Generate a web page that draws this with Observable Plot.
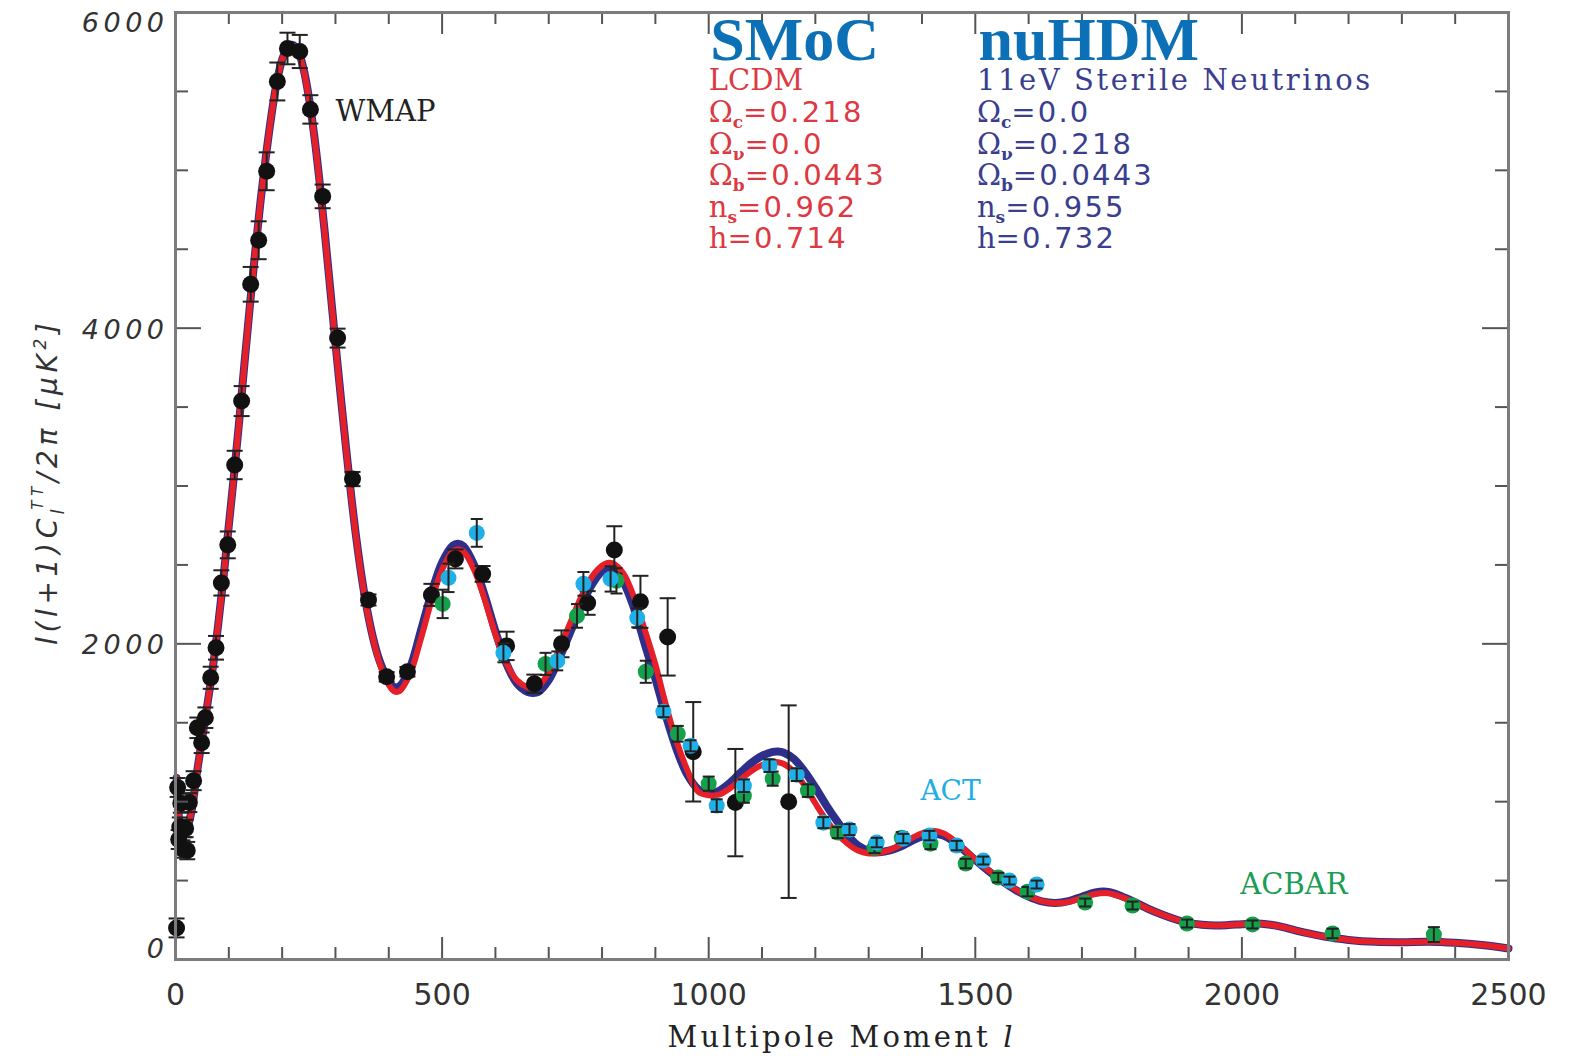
<!DOCTYPE html>
<html><head><meta charset="utf-8">
<script src="https://cdn.jsdelivr.net/npm/d3@7"></script>
<script src="https://cdn.jsdelivr.net/npm/@observablehq/plot@0.6"></script>
<style>
html,body{margin:0;padding:0;background:#fff;}
svg{display:block;}
g[aria-label="y-axis tick label"] text{letter-spacing:4.5px;}
</style></head><body><div id="chart"></div>
<script>
// ---- model curves (multipole l, D_l in muK^2) ----
const modelL = [2,5,10,15,20,30,40,50,60,70,80,90,100,110,120,130,140,150,160,170,180,190,200,210,220,230,240,250,260,270,280,290,300,310,320,330,340,350,360,370,380,390,400,410,420,440,460,480,500,520,530,540,560,580,600,620,640,660,670,680,700,720,740,760,780,800,810,820,840,860,880,900,920,940,960,980,1000,1010,1020,1040,1060,1080,1100,1120,1130,1140,1160,1180,1200,1220,1240,1260,1280,1300,1310,1320,1340,1360,1380,1400,1420,1440,1460,1480,1500,1525,1550,1575,1600,1625,1650,1675,1700,1725,1750,1775,1800,1825,1850,1875,1900,1925,1950,1975,2000,2025,2050,2075,2100,2125,2150,2175,2200,2250,2300,2350,2400,2450,2500];
const lcdmDl = [1150,950,830,790,810,940,1180,1400,1620,1850,2120,2420,2750,3080,3430,3800,4160,4500,4820,5100,5350,5560,5700,5770,5790,5750,5640,5460,5220,4930,4600,4250,3900,3560,3230,2920,2640,2400,2200,2040,1910,1810,1740,1700,1700,1810,2030,2270,2470,2585,2600,2585,2470,2280,2060,1880,1770,1725,1720,1730,1820,1970,2130,2290,2420,2495,2512,2510,2445,2295,2090,1870,1610,1380,1200,1065,1040,1038,1045,1085,1140,1195,1232,1250,1250,1240,1190,1100,990,885,800,735,690,672,672,676,695,728,768,800,815,800,755,695,635,565,500,445,400,370,357,365,390,415,420,395,360,320,285,255,232,220,215,218,224,228,222,207,185,165,148,135,124,112,110,113,106,92,70];
const nuhdmDl = [1150,950,830,790,810,940,1180,1400,1620,1850,2120,2420,2750,3080,3430,3800,4160,4500,4820,5100,5350,5560,5700,5775,5795,5755,5645,5465,5225,4935,4605,4255,3905,3565,3235,2925,2645,2405,2205,2045,1920,1830,1762,1726,1730,1850,2080,2320,2515,2622,2634,2618,2500,2305,2080,1880,1750,1695,1688,1694,1770,1910,2070,2230,2370,2460,2472,2465,2390,2225,2000,1780,1540,1330,1170,1080,1052,1056,1070,1120,1185,1245,1290,1315,1318,1312,1270,1190,1090,980,880,790,722,688,680,680,692,716,750,780,795,785,745,690,630,560,497,442,398,368,358,370,398,425,428,400,362,320,285,255,232,220,215,218,224,228,222,207,185,165,148,135,124,112,110,113,106,92,70];

// ---- WMAP ----
const wmapL = [2,4,6,8,10,13,16,19,22,26,34,41,49,56,66,76,86,98,111,124,141,156,171,191,210,233,253,276,304,332,362,396,435,480,525,576,621,673,724,773,823,872,923,971,1050,1150];
const wmapDl = [200,1090,760,840,990,700,830,830,690,994,1133,1468,1373,1532,1785,1975,2386,2627,3133,3538,4278,4557,4994,5563,5772,5753,5386,4835,3937,3044,2278,1791,1823,2310,2538,2443,1987,1747,2000,2259,2595,2266,2044,1316,994,1000];
const wmapErr = [60,60,60,60,60,55,55,55,55,60,60,65,65,65,70,75,80,85,90,95,110,120,120,120,100,105,90,75,60,45,35,30,30,70,60,50,90,58,85,75,150,165,245,315,340,610];

// ---- ACT ----
const actL = [512,565,615,716,765,816,866,915,966,1015,1066,1114,1165,1215,1264,1315,1365,1414,1465,1515,1564,1615];
const actDl = [2418,2703,1943,1892,2380,2411,2165,1570,1354,975,1101,1228,1171,867,823,741,766,785,722,627,500,475];
const actErr = [90,88,60,60,75,80,60,35,35,40,40,40,40,35,35,30,30,30,30,25,25,25];

// ---- ACBAR ----
const acbarL = [501,694,753,827,882,942,1000,1066,1120,1186,1242,1311,1362,1416,1482,1543,1598,1706,1795,1897,2020,2170,2360];
const acbarDl = [2253,1873,2177,2399,1823,1430,1114,1038,1146,1070,804,709,772,734,608,519,430,361,342,228,222,165,158];
const acbarErr = [90,70,75,80,70,50,45,45,45,40,35,35,35,35,30,30,30,25,25,25,25,30,47];

// ---- ticks & labels ----
const xMajorTicks = [0,500,1000,1500,2000,2500];
const yMajorTicks = [0,2000,4000,6000];
const xMinorTicks = d3.range(0,2501,100).filter(v => v % 500 !== 0);
const yMinorTicks = d3.range(0,6001,500).filter(v => v % 2000 !== 0);
const lcdmParams = ["LCDM","Ω_c=0.218","Ω_ν=0.0","Ω_b=0.0443","n_s=0.962","h=0.714"];
const nuhdmParams = ["11eV Sterile Neutrinos","Ω_c=0.0","Ω_ν=0.218","Ω_b=0.0443","n_s=0.955","h=0.732"];

const model = modelL.map((l,i)=>({l, lcdm: lcdmDl[i], nu: nuhdmDl[i]}));
const rows = (L,V,E)=>L.map((l,i)=>({l, v:V[i], e:E[i]}));
const wmap = rows(wmapL,wmapDl,wmapErr);
const act = rows(actL,actDl,actErr);
const acbar = rows(acbarL,acbarDl,acbarErr);

const W=1569, H=1056, mt=12, mr=61, mb=97, ml=175;
const innerW = W-ml-mr, innerH = H-mt-mb;

const capSymbol = {draw(ctx, size){ const r = Math.sqrt(size/Math.PI); ctx.moveTo(-r,0); ctx.lineTo(r,0); }};
function errorBars(data, color, cap) {
  return [
    Plot.ruleX(data, {x:"l", y1: d=>d.v-d.e, y2: d=>d.v+d.e, stroke: color, strokeWidth: 2}),
    Plot.dot(data, {x:"l", y: d=>d.v+d.e, symbol: capSymbol, r: cap, stroke: color, strokeWidth: 2, fill: "none"}),
    Plot.dot(data, {x:"l", y: d=>d.v-d.e, symbol: capSymbol, r: cap, stroke: color, strokeWidth: 2, fill: "none"})
  ];
}
const tickStyle = {stroke:"#555", strokeWidth:2};
const yLabelStyle = {tickSize:0, tickPadding:7, label:null, fontSize:27, fontStyle:"italic", fontFamily:"DejaVu Sans", fill:"#333", tickFormat: d => String(d)};

const svg = Plot.plot({
  width: W, height: H, marginTop: mt, marginRight: mr, marginBottom: mb, marginLeft: ml,
  x: {domain:[0,2500]}, y: {domain:[0,6000]},
  style: {background:"#fff", color:"#333"},
  marks: [
    Plot.axisX({ticks: xMajorTicks, tickSize:0, tickPadding:24, label:null, fontSize:30, fontFamily:"DejaVu Sans", fill:"#333", tickFormat: d => String(d)}),
    Plot.axisY({ticks: [yMajorTicks[3]], dy: 11, ...yLabelStyle}),
    Plot.axisY({ticks: [yMajorTicks[1], yMajorTicks[2]], dy: 2, ...yLabelStyle}),
    Plot.axisY({ticks: [yMajorTicks[0]], dy: -10, ...yLabelStyle}),
    Plot.line(model, {x:"l", y:"nu", stroke:"#2d2f8a", strokeWidth:8, curve:"catmull-rom"}),
    Plot.line(model, {x:"l", y:"lcdm", stroke:"#e52029", strokeWidth:6, curve:"catmull-rom"}),
    ...errorBars(wmap, "#222", 8),
    Plot.dot(wmap, {x:"l", y:"v", r:8.5, fill:"#111"}),
    Plot.dot(acbar, {x:"l", y:"v", r:8, fill:"#16a04b"}),
    ...errorBars(acbar, "#222", 6),
    Plot.dot(act, {x:"l", y:"v", r:8, fill:"#1eb0e6"}),
    ...errorBars(act, "#222", 6),
    Plot.ruleX(xMinorTicks, {x:d=>d, insetTop: innerH-12, ...tickStyle}),
    Plot.ruleX(xMinorTicks, {x:d=>d, insetBottom: innerH-12, ...tickStyle}),
    Plot.ruleX(xMajorTicks, {x:d=>d, insetTop: innerH-22, ...tickStyle}),
    Plot.ruleX(xMajorTicks, {x:d=>d, insetBottom: innerH-22, ...tickStyle}),
    Plot.ruleY(yMinorTicks, {y:d=>d, insetRight: innerW-13, ...tickStyle}),
    Plot.ruleY(yMinorTicks, {y:d=>d, insetLeft: innerW-13, ...tickStyle}),
    Plot.ruleY(yMajorTicks, {y:d=>d, insetRight: innerW-26, ...tickStyle}),
    Plot.ruleY(yMajorTicks, {y:d=>d, insetLeft: innerW-26, ...tickStyle}),
    Plot.frame({stroke:"#7c7c7c", strokeWidth:3}),
    Plot.text(["WMAP"], {x:300, y:5373, text:d=>d, textAnchor:"start", fontFamily:"DejaVu Serif", fontSize:29, fill:"#222"}),
    Plot.text(["ACT"], {x:1397, y:1070, text:d=>d, textAnchor:"start", fontFamily:"DejaVu Serif", fontSize:28, fill:"#22aee4"}),
    Plot.text(["ACBAR"], {x:1997, y:475, text:d=>d, textAnchor:"start", fontFamily:"DejaVu Serif", fontSize:29, fill:"#1c9c55"}),
    Plot.text(["SMoC"], {x:1003, y:5822, text:d=>d, textAnchor:"start", fontFamily:"Liberation Serif", fontWeight:"bold", fontSize:62, fill:"#0b70b5"}),
    Plot.text(["nuHDM"], {x:1506, y:5822, text:d=>d, textAnchor:"start", fontFamily:"Liberation Serif", fontWeight:"bold", fontSize:62, fill:"#0b70b5"}),
    Plot.text(lcdmParams, {x:1000, y:(d,i)=>5565-200*i, text:d=>d, textAnchor:"start", fontFamily:"DejaVu Serif", fontSize:29, fill:"#dc3943"}),
    Plot.text(nuhdmParams, {x:1503, y:(d,i)=>5565-200*i, text:d=>d, textAnchor:"start", fontFamily:"DejaVu Serif", fontSize:29, fill:"#3a3e8e"})
  ]
});

// rich text: subscripts in parameter lines
const S = d3.select(svg);
S.selectAll("text").each(function(){
  const t = this.textContent;
  if (t === nuhdmParams[0]) { d3.select(this).attr("letter-spacing","2.6px"); return; }
  const m = /^(Ω|n|h)(?:_(.))?=(.+)$/.exec(t);
  if (!m) return;
  const s = d3.select(this);
  s.text(null);
  s.append("tspan").text(m[1]);
  if (m[2]) {
    s.append("tspan").attr("font-size","17px").attr("font-weight","bold").attr("dy",6).text(m[2]);
    s.append("tspan").attr("dy",-6).attr("font-family","DejaVu Sans").attr("letter-spacing","2.2px").text("=" + m[3]);
  } else {
    s.append("tspan").attr("font-family","DejaVu Sans").attr("letter-spacing","2.2px").text("=" + m[3]);
  }
});

// axis titles
const yt = S.append("text").attr("transform","translate(57,484) rotate(-90)").attr("text-anchor","middle")
  .attr("font-family","DejaVu Sans").attr("font-style","italic").attr("font-size",28).attr("fill","#333")
  .attr("textLength",322).attr("lengthAdjust","spacing");
yt.append("tspan").text("l(l+1)C");
yt.append("tspan").attr("font-size",17).attr("dy",7).text("l");
yt.append("tspan").attr("font-size",15).attr("dx",-5).attr("dy",-21).text("TT");
yt.append("tspan").attr("dy",14).text("/2π [μK");
yt.append("tspan").attr("font-size",17).attr("dy",-11).text("2");
yt.append("tspan").attr("dy",11).text("]");

const xt = S.append("text").attr("x",840).attr("y",1047).attr("text-anchor","middle")
  .attr("font-family","DejaVu Serif").attr("font-size",29).attr("fill","#222")
  .attr("textLength",345).attr("lengthAdjust","spacing");
xt.append("tspan").text("Multipole Moment ");
xt.append("tspan").attr("font-style","italic").text("l");

document.getElementById("chart").appendChild(svg);
</script></body></html>
